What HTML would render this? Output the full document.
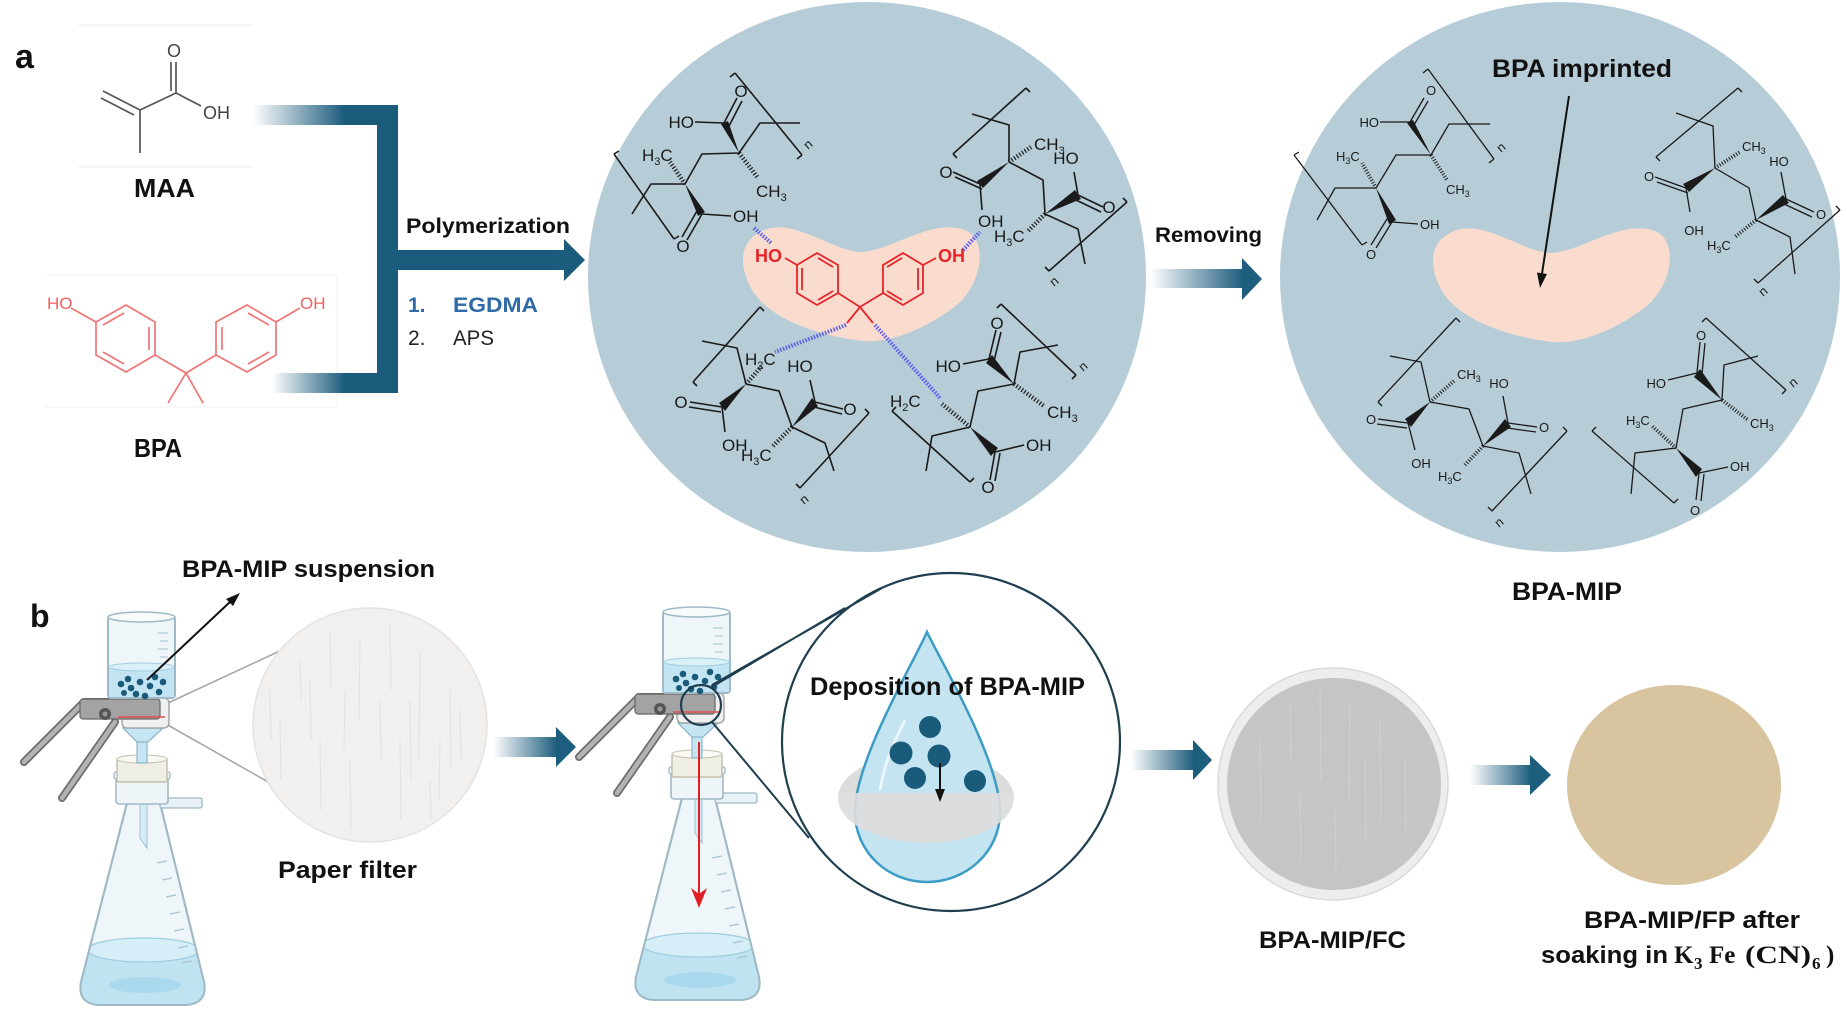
<!DOCTYPE html>
<html><head><meta charset="utf-8"><style>
html,body{margin:0;padding:0;background:#fff;}
svg{display:block;}
text{font-family:"Liberation Sans",Arial,sans-serif;}
</style></head><body>
<svg width="1844" height="1016" viewBox="0 0 1844 1016" xmlns="http://www.w3.org/2000/svg">
<defs>
<linearGradient id="ag" x1="0" y1="0" x2="1" y2="0"><stop offset="0" stop-color="#ffffff"/><stop offset="1" stop-color="#1d5d7e"/></linearGradient>
<linearGradient id="gTop" gradientUnits="userSpaceOnUse" x1="253" y1="0" x2="345" y2="0"><stop offset="0" stop-color="#ffffff"/><stop offset="1" stop-color="#1b5b7c"/></linearGradient>
<linearGradient id="gBot" gradientUnits="userSpaceOnUse" x1="272" y1="0" x2="345" y2="0"><stop offset="0" stop-color="#ffffff"/><stop offset="1" stop-color="#1b5b7c"/></linearGradient>
<clipPath id="cUp"><rect x="800" y="600" width="250" height="193"/></clipPath>
<clipPath id="cLo"><rect x="800" y="793" width="250" height="120"/></clipPath>
<clipPath id="cFlask"><path d="M127,803 L81,982 Q77,1004 100,1005 L185,1005 Q208,1004 204,982 L160,803 Z"/></clipPath>
<g id="app">
 <path d="M24,762 L84,702 L158,702" fill="none" stroke="#6d6d6d" stroke-width="8" stroke-linecap="round" stroke-linejoin="round"/>
 <path d="M24,762 L84,702 L158,702" fill="none" stroke="#b3b3b3" stroke-width="4.5" stroke-linecap="round" stroke-linejoin="round"/>
 <path d="M62,798 L115,722" fill="none" stroke="#6d6d6d" stroke-width="8" stroke-linecap="round"/>
 <path d="M62,798 L115,722" fill="none" stroke="#b3b3b3" stroke-width="4.5" stroke-linecap="round"/>
 <path d="M127,803 L81,982 Q77,1004 100,1005 L185,1005 Q208,1004 204,982 L160,803 Z" fill="#eef6f9" stroke="#9fb9c5" stroke-width="2"/>
 <g clip-path="url(#cFlask)">
  <rect x="70" y="950" width="150" height="60" fill="#bfe3f1"/>
  <ellipse cx="143.5" cy="950" rx="56" ry="12" fill="#d6eef7" stroke="#9fcde0" stroke-width="1.2"/>
  <ellipse cx="145" cy="985" rx="36" ry="8" fill="#aad8ec"/>
 </g>
 <path d="M127,803 L81,982 Q77,1004 100,1005 L185,1005 Q208,1004 204,982 L160,803 Z" fill="none" stroke="#9fb9c5" stroke-width="2"/>
 <path d="M157,863 L167,861 M162,880 L172,878 M166,897 L176,895 M170,914 L180,912 M174,931 L184,929 M178,948 L188,946 M182,963 L192,961" stroke="#a9c2cd" stroke-width="1.3"/>
 <path d="M140,803 L140,838 L147,848 L147,803 Z" fill="#d4ecf5" stroke="#9fc0cf" stroke-width="1"/>
 <rect x="160" y="798" width="42" height="10" rx="2" fill="#e8f1f5" stroke="#9fb9c5" stroke-width="1.3"/>
 <rect x="116" y="775" width="52" height="29" rx="3" fill="#eef5f8" stroke="#9fb9c5" stroke-width="1.6"/>
 <rect x="114" y="772" width="56" height="7" rx="2" fill="#f3f8fa" stroke="#9fb9c5" stroke-width="1.3"/>
 <rect x="117" y="758" width="50" height="24" rx="2" fill="#f0efe6" stroke="#c4c0ae" stroke-width="1.5"/>
 <ellipse cx="142" cy="759" rx="25" ry="4" fill="#faf9f3" stroke="#c4c0ae" stroke-width="1"/>
 <rect x="137" y="738" width="10" height="25" fill="#c5e5f2" stroke="#8fb6c7" stroke-width="1.2"/>
 <path d="M123,728 L163,728 L148,742 L137,742 Z" fill="#c5e5f2" stroke="#8fb6c7" stroke-width="1.3"/>
 <rect x="122" y="698" width="47" height="30" rx="5" fill="#f0f0f0" stroke="#9a9a9a" stroke-width="1.3"/>
 <rect x="80" y="699" width="80" height="20" rx="3" fill="#a3a3a3" stroke="#666" stroke-width="1.2"/>
 <line x1="118" y1="717" x2="165" y2="717" stroke="#e05050" stroke-width="1.6"/>
 <circle cx="105" cy="714" r="6" fill="#555"/><circle cx="105" cy="714" r="2.5" fill="#999"/>
 <rect x="108" y="617" width="67" height="81" rx="3" fill="#eef6f9" stroke="#9fb9c5" stroke-width="2"/>
 <rect x="109" y="667" width="65" height="30" fill="#c3e4f2"/>
 <ellipse cx="141.5" cy="667" rx="32.5" ry="4" fill="#d9f0f8" stroke="#9fcde0" stroke-width="1"/>
 <ellipse cx="141.5" cy="617" rx="33.5" ry="5" fill="#f7fbfc" stroke="#9fb9c5" stroke-width="1.5"/>
 <path d="M158,633 L168,633 M160,641 L168,641 M158,649 L168,649 M160,657 L168,657" stroke="#b3c9d2" stroke-width="1.2"/>
 <g fill="#1c5a7a">
  <circle cx="121" cy="684" r="3.3"/><circle cx="128" cy="679" r="3.3"/><circle cx="131" cy="688" r="3.3"/><circle cx="140" cy="682" r="3.3"/>
  <circle cx="136" cy="694" r="3.3"/><circle cx="150" cy="686" r="3.3"/><circle cx="155" cy="677" r="3.3"/><circle cx="159" cy="692" r="3.3"/>
  <circle cx="163" cy="682" r="3.3"/><circle cx="145" cy="696" r="3.3"/><circle cx="124" cy="693" r="3"/>
 </g>
</g>
</defs>

<!-- ============ PANEL A ============ -->
<text x="15" y="68" font-size="34" font-weight="bold" fill="#111">a</text>

<path d="M78,25 L253,25 M78,167 L253,167" stroke="#f1f1f1" stroke-width="1.2"/>
<path d="M44,275 L337,275 L337,407 M44,407 L337,407" stroke="#f3f3f3" stroke-width="1.2" fill="none"/>

<!-- MAA -->
<g stroke="#555" stroke-width="1.7" fill="none">
 <path d="M103,91 L140,110 M101,98 L134,115 M140,110 L140,153 M140,110 L176,93 M176,93 L176,62 M171,91 L171,62 M176,93 L201,106"/>
</g>
<text x="174" y="57" font-size="18" fill="#444" text-anchor="middle">O</text>
<text x="203" y="119" font-size="18" fill="#444">OH</text>
<text x="134" y="197" font-size="26" font-weight="bold" fill="#111" textLength="61" lengthAdjust="spacingAndGlyphs">MAA</text>

<!-- BPA panel a -->
<g stroke="#f07575" stroke-width="1.7" fill="none">
 <path d="M96,322 L126,305 L155,322 L155,355 L126,372 L96,355 Z"/>
 <path d="M216,322 L247,305 L276,322 L276,355 L247,372 L216,355 Z"/>
 <path d="M149,327 L149,350 M103,352 L124,364 M103,325 L124,313"/>
 <path d="M222,327 L222,350 M269,325 L248,313 M269,352 L248,364"/>
 <path d="M155,355 L186,373 L216,355 M186,373 L168,403 M186,373 L203,403 M71,308 L96,322 M276,322 L300,308"/>
</g>
<text x="47" y="309" font-size="17" fill="#f06060">HO</text>
<text x="300" y="309" font-size="17" fill="#f06060">OH</text>
<text x="134" y="457" font-size="26" font-weight="bold" fill="#111" textLength="48" lengthAdjust="spacingAndGlyphs">BPA</text>

<!-- connector -->
<rect x="253" y="105" width="145" height="20" fill="url(#gTop)"/>
<rect x="272" y="373" width="126" height="20" fill="url(#gBot)"/>
<rect x="377" y="105" width="21" height="288" fill="#1b5b7c"/>
<rect x="377" y="250" width="188" height="20" fill="#1b5b7c"/>
<polygon points="564,239 585,260 564,281" fill="#1b5b7c"/>
<text x="406" y="233" font-size="21" font-weight="bold" fill="#111" textLength="164" lengthAdjust="spacingAndGlyphs">Polymerization</text>
<text x="408" y="312" font-size="21" font-weight="bold" fill="#2f6ba6">1.</text>
<text x="453" y="312" font-size="21" font-weight="bold" fill="#2f6ba6" textLength="85" lengthAdjust="spacingAndGlyphs">EGDMA</text>
<text x="408" y="345" font-size="21" fill="#222">2.</text>
<text x="453" y="345" font-size="21" fill="#222" textLength="41" lengthAdjust="spacingAndGlyphs">APS</text>

<!-- Circle 1 -->
<ellipse cx="867" cy="277" rx="279" ry="275" fill="#b6cdd8"/>
<path d="M760,232 C790,215 830,250 860,252 C890,252 930,218 965,230 C990,240 982,290 950,310 C915,335 880,345 855,340 C820,335 770,320 752,290 C738,265 740,242 760,232 Z" fill="#f9dccd"/>

<g stroke="#5b5be6" stroke-width="4" stroke-dasharray="1.5 1.5" fill="none">
 <path d="M754,228 L771,243 M963,250 L980,232 M846,325 L775,352 M875,325 L940,398"/>
</g>

<!-- red BPA in circle 1 -->
<g stroke="#e8242b" stroke-width="1.8" fill="none">
 <path d="M817,253 L838,265 L838,293 L817,305 L797,293 L797,265 Z"/>
 <path d="M903,253 L923,265 L923,293 L903,305 L883,293 L883,265 Z"/>
 <path d="M818,258 L833,267 M833,291 L818,300 M802,290 L802,268"/>
 <path d="M902,258 L887,267 M887,291 L902,300 M918,290 L918,268"/>
 <path d="M838,293 L860,307 L883,293 M860,307 L847,323 M860,307 L873,323 M797,265 L785,258 M923,265 L936,258"/>
</g>
<text x="782" y="262" font-size="18" font-weight="bold" fill="#e8242b" text-anchor="end">HO</text>
<text x="938" y="262" font-size="18" font-weight="bold" fill="#e8242b">OH</text>

<!-- polymer structures circle 1 -->
<g stroke="#1a1a1a" stroke-width="1.6" fill="none">
 <path d="M735,73 L802,155 M735,73 L730,77 M802,155 L797,159 M614,154 L674,239 M614,154 L619,151 M674,239 L679,236 M695,122 L724,123 M724,123 L737,98 M729,126 L742,101 M739,153 L760,123 L800,123 M739,153 L702,154 L685,184 L651,184 L632,214 M702,214 L731,216 M702,214 L687,240 M697,211 L682,237"/>
 <path d="M953,154 L1026,88 M953,154 L957,158 M1026,88 L1030,92 M972,114 L1009,125 L1009,162 M980,184 L953,172 M982,189 L955,177 M980,184 L982,210 M1009,162 L1043,180 L1045,214 M1078,195 L1103,207 M1076,200 L1101,212 M1078,195 L1074,172 M1045,214 L1078,229 L1085,264 M1049,271 L1127,202 M1049,271 L1045,267 M1127,202 L1123,198"/>
 <path d="M760,307 L693,382 M760,307 L764,311 M693,382 L697,386 M702,341 L737,348 L746,384 M722,407 L690,402 M721,412 L689,407 M722,407 L725,432 M746,384 L779,391 L792,427 M815,402 L843,409 M814,407 L842,414 M815,402 L810,380 M792,427 L825,443 L834,471 M800,488 L869,413 M800,488 L796,484 M869,413 L865,409"/>
 <path d="M1001,304 L1076,375 M1001,304 L997,308 M1076,375 L1072,379 M1058,345 L1020,352 L1014,384 M989,359 L996,330 M994,361 L1001,332 M989,359 L963,364 M1014,384 L978,391 L970,427 M995,452 L1024,445 M995,452 L990,480 M1000,453 L995,481 M970,427 L932,436 L926,471 M892,411 L970,482 M892,411 L896,407 M970,482 L974,478"/>
</g>
<g fill="#1a1a1a">
 <polygon points="739,153 721,124 728,121"/><polygon points="685,184 698,216 705,212"/>
 <polygon points="1009,162 977,181 983,188"/><polygon points="1045,214 1075,190 1081,199"/>
 <polygon points="746,384 719,403 725,411"/><polygon points="792,427 812,398 818,406"/>
 <polygon points="1014,384 986,363 992,355"/><polygon points="970,427 991,456 998,448"/>
</g>
<g stroke="#1a1a1a" stroke-width="4.5" stroke-dasharray="1.2 2" fill="none">
 <path d="M739,153 L758,178 M685,184 L670,162 M1009,162 L1031,147 M1045,214 L1027,232 M746,384 L762,366 M792,427 L772,447 M1014,384 L1044,406 M970,427 L942,404"/>
</g>
<g font-size="17" fill="#1a1a1a">
 <text x="694" y="128" text-anchor="end">HO</text>
 <text x="741" y="97" text-anchor="middle">O</text>
 <text x="756" y="197">CH<tspan font-size="11" dy="4">3</tspan></text>
 <text x="642" y="161">H<tspan font-size="11" dy="4">3</tspan><tspan dy="-4">C</tspan></text>
 <text x="733" y="222">OH</text>
 <text x="683" y="252" text-anchor="middle">O</text>
 <text x="808" y="150" font-size="13" transform="rotate(-40 808 150)">n</text>

 <text x="1034" y="150">CH<tspan font-size="11" dy="4">3</tspan></text>
 <text x="946" y="178" text-anchor="middle">O</text>
 <text x="978" y="227">OH</text>
 <text x="1109" y="213" text-anchor="middle">O</text>
 <text x="1066" y="164" text-anchor="middle">HO</text>
 <text x="994" y="242">H<tspan font-size="11" dy="4">3</tspan><tspan dy="-4">C</tspan></text>
 <text x="1054" y="287" font-size="13" transform="rotate(-40 1054 287)">n</text>

 <text x="745" y="365">H<tspan font-size="11" dy="4">2</tspan><tspan dy="-4">C</tspan></text>
 <text x="681" y="408" text-anchor="middle">O</text>
 <text x="722" y="451">OH</text>
 <text x="800" y="372" text-anchor="middle">HO</text>
 <text x="741" y="461">H<tspan font-size="11" dy="4">3</tspan><tspan dy="-4">C</tspan></text>
 <text x="850" y="415" text-anchor="middle">O</text>
 <text x="804" y="505" font-size="13" transform="rotate(-40 804 505)">n</text>

 <text x="997" y="329" text-anchor="middle">O</text>
 <text x="961" y="372" text-anchor="end">HO</text>
 <text x="1047" y="418">CH<tspan font-size="11" dy="4">3</tspan></text>
 <text x="890" y="407">H<tspan font-size="11" dy="4">2</tspan><tspan dy="-4">C</tspan></text>
 <text x="1026" y="451">OH</text>
 <text x="988" y="493" text-anchor="middle">O</text>
 <text x="1083" y="372" font-size="13" transform="rotate(-40 1083 372)">n</text>
</g>

<!-- Removing arrow -->
<text x="1155" y="242" font-size="21" font-weight="bold" fill="#111" textLength="107" lengthAdjust="spacingAndGlyphs">Removing</text>
<rect x="1150" y="269" width="93" height="19" fill="url(#ag)"/>
<polygon points="1242,258 1262,279 1242,300" fill="#1d5d7e"/>

<!-- Circle 2 -->
<ellipse cx="1560" cy="277" rx="280" ry="275" fill="#b6cdd8"/>
<path d="M760,232 C790,215 830,250 860,252 C890,252 930,218 965,230 C990,240 982,290 950,310 C915,335 880,345 855,340 C820,335 770,320 752,290 C738,265 740,242 760,232 Z" fill="#f9dccd" transform="translate(690,1)"/>
<g stroke="#1a1a1a" stroke-width="1.3" fill="none">
 <path d="M1428,69 L1494,159 M1428,69 L1423,73 M1494,159 L1489,163 M1294,155 L1362,245 M1294,155 L1299,152 M1362,245 L1367,242 M1380,122 L1410,122 M1410,122 L1424,98 M1414,125 L1428,101 M1431,155 L1449,124 L1490,124 M1431,155 L1396,155 L1376,188 L1335,188 L1317,220 M1392,222 L1418,224 M1392,222 L1376,248 M1387,219 L1371,245"/>
 <path d="M1656,157 L1738,88 M1656,157 L1660,161 M1738,88 L1742,92 M1676,113 L1713,126 L1715,168 M1686,188 L1655,177 M1688,193 L1657,182 M1686,188 L1690,212 M1715,168 L1749,188 L1756,220 M1786,199 L1814,212 M1784,204 L1812,217 M1786,199 L1781,172 M1756,220 L1790,237 L1795,274 M1758,283 L1840,210 M1758,283 L1754,279 M1840,210 L1836,206"/>
 <path d="M1456,318 L1378,402 M1456,318 L1460,322 M1378,402 L1382,406 M1390,356 L1421,362 L1430,402 M1408,423 L1378,419 M1407,428 L1377,424 M1408,423 L1415,450 M1430,402 L1469,409 L1483,446 M1508,423 L1537,427 M1507,428 L1536,432 M1508,423 L1503,396 M1483,446 L1519,453 L1531,494 M1492,511 L1567,431 M1492,511 L1488,507 M1567,431 L1563,427"/>
 <path d="M1706,318 L1786,390 M1706,318 L1702,322 M1786,390 L1782,394 M1758,356 L1724,365 L1722,400 M1697,373 L1700,342 M1702,374 L1705,343 M1697,373 L1668,380 M1722,400 L1683,409 L1676,448 M1699,473 L1728,467 M1699,473 L1696,500 M1704,474 L1701,501 M1676,448 L1635,453 L1631,494 M1592,431 L1674,503 M1592,431 L1596,427 M1674,503 L1678,499"/>
</g>
<g fill="#1a1a1a">
 <polygon points="1431,155 1407,123 1413,120"/><polygon points="1376,188 1389,224 1396,220"/>
 <polygon points="1715,168 1683,184 1689,192"/><polygon points="1756,220 1783,195 1789,203"/>
 <polygon points="1430,402 1405,419 1411,427"/><polygon points="1483,446 1505,419 1511,427"/>
 <polygon points="1722,400 1694,377 1700,369"/><polygon points="1676,448 1696,477 1702,469"/>
</g>
<g stroke="#1a1a1a" stroke-width="3.8" stroke-dasharray="1 1.8" fill="none">
 <path d="M1431,155 L1447,180 M1376,188 L1362,163 M1715,168 L1740,152 M1756,220 L1735,237 M1430,402 L1455,380 M1483,446 L1464,466 M1722,400 L1748,420 M1676,448 L1652,426"/>
</g>
<g font-size="13" fill="#1a1a1a">
 <text x="1379" y="127" text-anchor="end">HO</text>
 <text x="1431" y="95" text-anchor="middle">O</text>
 <text x="1446" y="194">CH<tspan font-size="9" dy="3">3</tspan></text>
 <text x="1336" y="161">H<tspan font-size="9" dy="3">3</tspan><tspan dy="-3">C</tspan></text>
 <text x="1420" y="229">OH</text>
 <text x="1371" y="259" text-anchor="middle">O</text>
 <text x="1501" y="153" transform="rotate(-40 1501 153)">n</text>

 <text x="1742" y="151">CH<tspan font-size="9" dy="3">3</tspan></text>
 <text x="1649" y="181" text-anchor="middle">O</text>
 <text x="1694" y="235" text-anchor="middle">OH</text>
 <text x="1821" y="219" text-anchor="middle">O</text>
 <text x="1779" y="166" text-anchor="middle">HO</text>
 <text x="1707" y="250">H<tspan font-size="9" dy="3">3</tspan><tspan dy="-3">C</tspan></text>
 <text x="1763" y="297" transform="rotate(-40 1763 297)">n</text>

 <text x="1457" y="379">CH<tspan font-size="9" dy="3">3</tspan></text>
 <text x="1371" y="424" text-anchor="middle">O</text>
 <text x="1421" y="468" text-anchor="middle">OH</text>
 <text x="1544" y="432" text-anchor="middle">O</text>
 <text x="1499" y="388" text-anchor="middle">HO</text>
 <text x="1438" y="481">H<tspan font-size="9" dy="3">3</tspan><tspan dy="-3">C</tspan></text>
 <text x="1499" y="528" transform="rotate(-40 1499 528)">n</text>

 <text x="1701" y="340" text-anchor="middle">O</text>
 <text x="1666" y="388" text-anchor="end">HO</text>
 <text x="1750" y="428">CH<tspan font-size="9" dy="3">3</tspan></text>
 <text x="1626" y="425">H<tspan font-size="9" dy="3">3</tspan><tspan dy="-3">C</tspan></text>
 <text x="1730" y="471">OH</text>
 <text x="1695" y="515" text-anchor="middle">O</text>
 <text x="1793" y="388" transform="rotate(-40 1793 388)">n</text>
</g>
<text x="1492" y="77" font-size="25" font-weight="bold" fill="#111" textLength="180" lengthAdjust="spacingAndGlyphs">BPA imprinted</text>
<line x1="1569" y1="96" x2="1541.5" y2="277" stroke="#111" stroke-width="2"/>
<polygon points="1540,288 1547,274 1537,272.5" fill="#111"/>
<text x="1512" y="600" font-size="25" font-weight="bold" fill="#111" textLength="110" lengthAdjust="spacingAndGlyphs">BPA-MIP</text>

<!-- ============ PANEL B ============ -->
<text x="30" y="627" font-size="32" font-weight="bold" fill="#111">b</text>
<text x="182" y="577" font-size="24" font-weight="bold" fill="#111" textLength="253" lengthAdjust="spacingAndGlyphs">BPA-MIP suspension</text>

<!-- paper filter -->
<path d="M168,703 L282,650 M166,724 L270,783" stroke="#a8a8a8" stroke-width="1.6"/>
<circle cx="370" cy="725" r="117" fill="#f1f0ef" stroke="#e3e3e3" stroke-width="1.5"/>
<g stroke="#e4e3e2" stroke-width="1.2">
 <path d="M300,660 L301,700 M330,630 L331,690 M360,640 L359,720 M390,625 L391,690 M420,650 L419,760 M450,690 L451,770 M280,720 L281,780 M320,740 L321,810 M350,760 L351,830 M400,740 L401,820 M440,740 L439,800 M380,700 L381,760 M310,680 L311,740 M345,690 L344,750 M410,700 L411,780 M460,710 L461,760 M270,690 L271,740 M430,780 L431,820"/>
</g>
<text x="278" y="878" font-size="24" font-weight="bold" fill="#111" textLength="139" lengthAdjust="spacingAndGlyphs">Paper filter</text>

<!-- apparatus 1 -->
<use href="#app"/>
<line x1="147" y1="680" x2="231" y2="601" stroke="#111" stroke-width="2"/>
<polygon points="240,593 233,606 226,599" fill="#111"/>

<!-- arrow 1 -->
<rect x="493" y="737" width="64" height="20" fill="url(#ag)"/>
<polygon points="556,727 576,747 556,767" fill="#1d5d7e"/>

<!-- apparatus 2 -->
<use href="#app" transform="translate(555,-5)"/>
<line x1="699" y1="742" x2="699" y2="900" stroke="#e02020" stroke-width="2"/>
<polygon points="699,908 691,888 699,894 707,888" fill="#e02020"/>

<!-- magnifier -->
<circle cx="951" cy="742" r="169" fill="#fff" stroke="#1f3f50" stroke-width="2.2"/>
<path d="M710,688 L845,608 M712,685 L882,588 M712,722 L809,838" stroke="#1f3f50" stroke-width="2" fill="none"/>
<circle cx="701" cy="705" r="20" fill="none" stroke="#1f3f50" stroke-width="2.2"/>

<!-- droplet -->
<ellipse cx="926" cy="798" rx="88" ry="45" fill="#dcdcdc" clip-path="url(#cUp)"/>
<path d="M927,632 C915,660 855,760 855,812 C855,852 888,882 927,882 C966,882 1000,852 1000,812 C1000,760 940,660 927,632 Z" fill="#c4e4f2" stroke="#3c9cc4" stroke-width="2.5"/>
<path d="M905,720 C895,740 885,760 880,790" stroke="#eaf6fb" stroke-width="3" fill="none"/>
<ellipse cx="926" cy="798" rx="88" ry="45" fill="#dcdcdc" fill-opacity="0.92" clip-path="url(#cLo)"/>
<g fill="#1a5a7a">
 <circle cx="930" cy="727" r="11"/><circle cx="901" cy="753" r="11.5"/><circle cx="939" cy="756" r="11.5"/>
 <circle cx="915" cy="778" r="11"/><circle cx="975" cy="781" r="11"/>
</g>
<line x1="940" y1="763" x2="940" y2="795" stroke="#111" stroke-width="2"/>
<polygon points="940,802 935,789 945,789" fill="#111"/>
<text x="810" y="695" font-size="25" font-weight="bold" fill="#111" textLength="275" lengthAdjust="spacingAndGlyphs">Deposition of BPA-MIP</text>

<!-- arrow 2 -->
<rect x="1131" y="750" width="63" height="20" fill="url(#ag)"/>
<polygon points="1193,740 1212,760 1193,780" fill="#1d5d7e"/>

<!-- gray disc -->
<ellipse cx="1333" cy="784" rx="115" ry="116" fill="#ededed" stroke="#dadada" stroke-width="1.5"/>
<ellipse cx="1334" cy="784" rx="107" ry="106" fill="#c5c5c5"/>
<g stroke="#cfcfcf" stroke-width="1.2">
 <path d="M1290,700 L1291,760 M1320,690 L1321,780 M1350,700 L1349,800 M1380,720 L1381,820 M1300,790 L1301,860 M1335,810 L1336,870 M1365,760 L1366,840 M1260,740 L1261,820 M1405,760 L1406,830"/>
</g>
<text x="1259" y="948" font-size="24" font-weight="bold" fill="#111" textLength="147" lengthAdjust="spacingAndGlyphs">BPA-MIP/FC</text>

<!-- arrow 3 -->
<rect x="1470" y="765" width="61" height="20" fill="url(#ag)"/>
<polygon points="1530,755 1551,775 1530,795" fill="#1d5d7e"/>

<!-- tan disc -->
<ellipse cx="1674" cy="785" rx="107" ry="100" fill="#d9c4a0"/>
<text x="1584" y="928" font-size="24" font-weight="bold" fill="#111" textLength="216" lengthAdjust="spacingAndGlyphs">BPA-MIP/FP after</text>
<text x="1541" y="963" font-size="24" font-weight="bold" fill="#111" textLength="127" lengthAdjust="spacingAndGlyphs">soaking in</text>
<g font-weight="bold" fill="#111">
 <text x="1674" y="963" font-size="25" style="font-family:'Liberation Serif',serif">K</text>
 <text x="1694" y="969" font-size="17" style="font-family:'Liberation Serif',serif">3</text>
 <text x="1709" y="963" font-size="25" style="font-family:'Liberation Serif',serif">Fe</text>
 <text x="1745" y="963" font-size="25" style="font-family:'Liberation Serif',serif" textLength="66" lengthAdjust="spacingAndGlyphs">(CN)</text>
 <text x="1812" y="969" font-size="17" style="font-family:'Liberation Serif',serif">6</text>
 <text x="1826" y="963" font-size="25" style="font-family:'Liberation Serif',serif">)</text>
</g>
</svg>
</body></html>
